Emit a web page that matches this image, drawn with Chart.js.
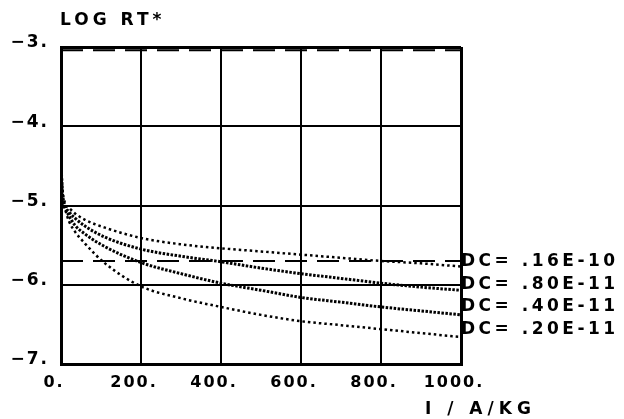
<!DOCTYPE html>
<html>
<head>
<meta charset="utf-8">
<script src="https://cdn.jsdelivr.net/npm/chart.js@4"></script>
<style>
  html, body { margin: 0; padding: 0; background: #fff; }
  canvas { display: block; }
</style>
</head>
<body>
<canvas id="rtChart" width="624" height="419"></canvas>
<script>
// current density I (A/kg)
const current = [0, 3, 10, 20, 35, 60, 110, 200, 300, 400, 500, 600, 700, 800, 900, 1000];

// log RT* for each diffusion coefficient
const dc16 = [-4.45, -4.75, -4.97, -5.03, -5.10, -5.18, -5.28, -5.41, -5.49, -5.54, -5.58, -5.62, -5.66, -5.70, -5.73, -5.77];
const dc08 = [-4.45, -4.80, -5.00, -5.08, -5.16, -5.26, -5.40, -5.55, -5.64, -5.71, -5.79, -5.86, -5.92, -5.98, -6.03, -6.07];
const dc04 = [-4.45, -4.85, -5.02, -5.13, -5.25, -5.36, -5.52, -5.72, -5.86, -5.98, -6.07, -6.16, -6.22, -6.28, -6.33, -6.38];
const dc02 = [-4.45, -4.90, -5.05, -5.20, -5.33, -5.48, -5.73, -6.02, -6.17, -6.28, -6.38, -6.46, -6.51, -6.56, -6.61, -6.66];

const seriesNames = ['DC= .16E-10', 'DC= .80E-11', 'DC= .40E-11', 'DC= .20E-11'];
const labelLevels = [-5.71, -6.00, -6.28, -6.56];

// dashed reference levels
const refLevels = [-3.04, -5.70];

const xTicks = [0, 200, 400, 600, 800, 1000];
const yTicks = [-7, -6, -5, -4, -3];

const FAMILY = '"DejaVu Sans", "Liberation Sans", sans-serif';
const FONT = 'bold 17px ' + FAMILY;

const toPoints = ys => ys.map((y, i) => ({ x: current[i], y: y }));

const curveStyle = (ys, dash, width) => ({
    data: toPoints(ys),
    borderColor: '#000',
    borderWidth: width,
    borderDash: dash,
    borderCapStyle: 'butt',
    pointRadius: 0,
    fill: false,
    cubicInterpolationMode: 'monotone'
});

const datasets = [
    curveStyle(dc16, [2.5, 3], 2.5),
    curveStyle(dc08, [2.5, 1.5], 3),
    curveStyle(dc04, [2.5, 1.5], 3),
    curveStyle(dc02, [2.5, 3], 2.5)
];
refLevels.forEach(lv => {
    datasets.push({
        data: [{ x: xTicks[0], y: lv }, { x: xTicks[xTicks.length - 1], y: lv }],
        borderColor: '#000',
        borderWidth: 2,
        borderDash: [22, 10],
        pointRadius: 0,
        fill: false
    });
});

// axis titles and curve labels drawn as text
const textPlugin = {
    id: 'plotText',
    beforeDraw(chart) {
        chart.ctx.letterSpacing = '2px';
    },
    afterDraw(chart) {
        const ctx = chart.ctx;
        const area = chart.chartArea;
        const y = chart.scales.y;
        ctx.save();
        ctx.font = FONT;
        ctx.fillStyle = '#000';
        ctx.textBaseline = 'middle';
        ctx.textAlign = 'left';
        ctx.letterSpacing = '4px';
        ctx.fillText('LOG RT*', area.left - 1, 21);
        ctx.letterSpacing = '5px';
        ctx.fillText('I / A/KG', 425, 410);
        ctx.letterSpacing = '3.5px';
        seriesNames.forEach((name, i) => {
            ctx.fillText(name, area.right, y.getPixelForValue(labelLevels[i]));
        });
        ctx.restore();
    }
};

new Chart(document.getElementById('rtChart'), {
    type: 'line',
    data: { datasets: datasets },
    options: {
        responsive: false,
        animation: false,
        layout: { padding: { top: 47, right: 163, left: 0, bottom: 0 } },
        plugins: {
            legend: { display: false },
            tooltip: { enabled: false }
        },
        scales: {
            x: {
                type: 'linear',
                min: 0,
                max: 1000,
                afterBuildTicks: s => { s.ticks = xTicks.map(v => ({ value: v })); },
                afterFit: s => { s.height = 55; },
                grid: {
                    color: '#000',
                    lineWidth: c => (c.index === 0 || c.index === xTicks.length - 1) ? 3 : 2,
                    drawTicks: false
                },
                border: { display: true, color: '#000', width: 3 },
                ticks: {
                    color: '#000',
                    font: { family: FAMILY, size: 16, weight: 'bold' },
                    padding: 9,
                    labelOffset: -7,
                    maxRotation: 0,
                    callback: v => v + '.'
                }
            },
            y: {
                min: -7,
                max: -3,
                afterBuildTicks: s => { s.ticks = yTicks.map(v => ({ value: v })); },
                afterFit: s => { s.width = 61; },
                grid: {
                    color: '#000',
                    lineWidth: c => (c.index === 0 || c.index === yTicks.length - 1) ? 3 : 2,
                    drawTicks: false
                },
                border: { display: true, color: '#000', width: 3 },
                ticks: {
                    color: '#000',
                    font: { family: FAMILY, size: 17, weight: 'bold' },
                    padding: 12,
                    labelOffset: -4,
                    callback: v => (v < 0 ? '\u2212' + Math.abs(v) : v) + '.'
                }
            }
        }
    },
    plugins: [textPlugin]
});
</script>
</body>
</html>
